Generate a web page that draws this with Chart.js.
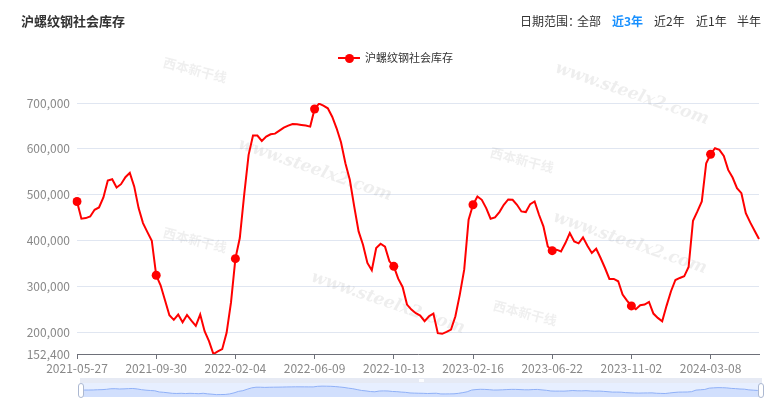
<!DOCTYPE html>
<html>
<head>
<meta charset="utf-8">
<script src="https://cdn.jsdelivr.net/npm/chart.js@4.4.1/dist/chart.umd.min.js"></script>
<style>
html,body{margin:0;padding:0;background:#fff;}
#wrap{position:relative;width:772px;height:412px;overflow:hidden;font-family:"Microsoft YaHei","Noto Sans CJK SC",sans-serif;}
#main{position:absolute;left:0;top:0;}
#title{position:absolute;left:21px;top:13px;font-size:13px;line-height:15px;font-weight:bold;color:#333;white-space:nowrap;}
.rg{position:absolute;top:14px;font-size:12px;line-height:14px;color:#333;white-space:nowrap;}
.rg.on{color:#1890ff;font-weight:bold;}
#lgLine{position:absolute;left:338px;top:57px;width:22px;height:2px;background:#ff0000;}
#lgDot{position:absolute;left:344.5px;top:53.5px;width:9px;height:9px;border-radius:50%;background:#ff0000;}
#lgText{position:absolute;left:365px;top:50px;font-size:11px;line-height:15px;color:#333;white-space:nowrap;}
#sMove{position:absolute;left:80px;top:378px;width:682px;height:5px;background:#e6eaf4;}
#sMoveIcon{position:absolute;left:419px;top:379px;width:5px;height:3px;background:#fbfcfe;}
#sFill{position:absolute;left:80px;top:383px;width:682px;height:14px;background:rgba(135,175,255,0.2);}
#shadow{position:absolute;left:80px;top:383px;}
.hd{position:absolute;top:383px;width:4px;height:13px;border:1px solid #acb8d1;border-radius:3px;background:#fff;}
</style>
</head>
<body>
<div id="wrap">
  <canvas id="main" width="772" height="412"></canvas>
  <div id="title">沪螺纹钢社会库存</div>
  <div class="rg" style="left:520px">日期范围：</div>
  <div class="rg" style="left:577px">全部</div>
  <div class="rg on" style="left:612px">近3年</div>
  <div class="rg" style="left:654px">近2年</div>
  <div class="rg" style="left:696px">近1年</div>
  <div class="rg" style="left:737px">半年</div>
  <div id="lgLine"></div><div id="lgDot"></div>
  <div id="lgText">沪螺纹钢社会库存</div>
  <div id="sMove"></div><div id="sMoveIcon"></div>
  <div id="sFill"></div>
  <canvas id="shadow" width="682" height="14"></canvas>
  <div class="hd" style="left:78px"></div>
  <div class="hd" style="left:758px"></div>
</div>
<script>
const seriesName = '沪螺纹钢社会库存';
const dates = [
'2021-05-27','2021-06-03','2021-06-10','2021-06-17','2021-06-24','2021-07-01','2021-07-08','2021-07-15','2021-07-22','2021-07-29',
'2021-08-05','2021-08-12','2021-08-19','2021-08-26','2021-09-02','2021-09-09','2021-09-16','2021-09-23','2021-09-30','2021-10-08',
'2021-10-14','2021-10-21','2021-10-28','2021-11-04','2021-11-11','2021-11-18','2021-11-25','2021-12-02','2021-12-09','2021-12-16',
'2021-12-23','2021-12-30','2022-01-06','2022-01-13','2022-01-20','2022-01-27','2022-02-04','2022-02-10','2022-02-17','2022-02-24',
'2022-03-03','2022-03-10','2022-03-17','2022-03-24','2022-03-31','2022-04-07','2022-04-14','2022-04-21','2022-04-28','2022-05-05',
'2022-05-12','2022-05-19','2022-05-26','2022-06-02','2022-06-09','2022-06-16','2022-06-23','2022-06-30','2022-07-07','2022-07-14',
'2022-07-21','2022-07-28','2022-08-04','2022-08-11','2022-08-18','2022-08-25','2022-09-01','2022-09-08','2022-09-15','2022-09-22',
'2022-09-29','2022-10-06','2022-10-13','2022-10-20','2022-10-27','2022-11-03','2022-11-10','2022-11-17','2022-11-24','2022-12-01',
'2022-12-08','2022-12-15','2022-12-22','2022-12-29','2023-01-05','2023-01-12','2023-01-19','2023-01-26','2023-02-02','2023-02-09',
'2023-02-16','2023-02-23','2023-03-02','2023-03-09','2023-03-16','2023-03-23','2023-03-30','2023-04-06','2023-04-13','2023-04-20',
'2023-04-27','2023-05-04','2023-05-11','2023-05-18','2023-05-25','2023-06-01','2023-06-08','2023-06-15','2023-06-22','2023-06-29',
'2023-07-06','2023-07-13','2023-07-20','2023-07-27','2023-08-03','2023-08-10','2023-08-17','2023-08-24','2023-08-31','2023-09-07',
'2023-09-14','2023-09-21','2023-09-28','2023-10-12','2023-10-19','2023-10-26','2023-11-02','2023-11-09','2023-11-16','2023-11-23',
'2023-11-30','2023-12-07','2023-12-14','2023-12-21','2023-12-28','2024-01-04','2024-01-11','2024-01-18','2024-01-25','2024-02-01',
'2024-02-08','2024-02-15','2024-02-22','2024-02-29','2024-03-08','2024-03-14','2024-03-21','2024-03-28','2024-04-03','2024-04-11',
'2024-04-18','2024-04-25','2024-05-09','2024-05-16','2024-05-23','2024-05-30'
];
const stock = [
485200,447500,448900,452500,467000,472100,493900,530900,533800,515700,
522900,538200,547600,518000,470700,438000,418400,399600,324100,302300,
269700,237000,226900,238500,221800,237700,225400,213800,238500,202200,
180400,152400,158000,163000,198500,265000,360400,405400,500100,587000,
628900,628900,617300,626700,631800,633200,639800,646300,650700,654300,
653600,652100,650700,648500,686900,698500,694200,688400,670200,644800,
614400,568600,532400,474300,419900,390900,351000,335000,383600,393000,
386500,354600,343700,316800,298700,260200,249300,241300,236300,223900,
234800,240600,197800,196400,200700,205800,234800,282000,336400,445300,
477900,496100,488800,470700,447500,450400,462000,477900,489500,488800,
477900,463400,462000,479400,485200,456200,430800,387200,377800,380000,
376300,394500,416300,398100,393800,406800,388700,372700,382100,361800,
340000,316100,316100,311000,282000,268900,257300,250100,258800,260200,
266000,240600,231200,223900,258000,289300,313900,318300,321900,342200,
443100,463400,485200,568600,588200,601300,597700,584600,554100,537400,
514200,503300,459800,439500,421300,403200
];
const yTicks = [152400,200000,300000,400000,500000,600000,700000];
const yMin = 152400;
const yMax = 700000;
const labelStep = 18;

const FONT = '"Microsoft YaHei","Noto Sans CJK SC",sans-serif';

const watermark = {
  id: 'watermark',
  beforeDatasetsDraw(chart) {
    const c = chart.ctx;
    c.save();
    const sites = [[315,170],[388,303],[630,243],[632,94]];
    c.fillStyle = 'rgba(120,120,120,0.13)';
    c.font = 'italic bold 17px "DejaVu Serif",serif';
    c.textAlign = 'center'; c.textBaseline = 'middle';
    sites.forEach(([x,y]) => { c.save(); c.translate(x,y); c.rotate(0.33); c.fillText('www.steelx2.com',0,0); c.restore(); });
    const logos = [[195,70],[195,240],[522,160],[525,313]];
    c.font = 'bold 13px "Noto Sans CJK SC",sans-serif';
    c.fillStyle = 'rgba(120,120,120,0.12)';
    logos.forEach(([x,y]) => { c.save(); c.translate(x,y); c.rotate(0.25); c.fillText('西本新干线',0,0); c.restore(); });
    c.restore();
  }
};

new Chart(document.getElementById('main'), {
  type: 'line',
  data: {
    labels: dates,
    datasets: [{
      label: seriesName,
      data: stock,
      borderColor: '#ff0000',
      backgroundColor: '#ff0000',
      pointBackgroundColor: '#ff0000',
      borderWidth: 2,
      tension: 0,
      fill: false,
      pointRadius: c => (c.dataIndex % labelStep === 0 ? 4.5 : 0),
      pointHoverRadius: 0,
      pointBorderWidth: 0
    }]
  },
  options: {
    responsive: false,
    animation: false,
    devicePixelRatio: 1,
    layout: { padding: { left: 0, right: 13, top: 103, bottom: 0 } },
    plugins: { legend: { display: false }, tooltip: { enabled: false } },
    scales: {
      x: {
        type: 'category',
        offset: false,
        grid: {
          display: true, drawOnChartArea: false, drawTicks: true, tickLength: 5, lineWidth: 1,
          color: c => (c.index % labelStep === 0 ? '#6E7079' : 'rgba(0,0,0,0)')
        },
        border: { display: true, color: '#6E7079', width: 1 },
        ticks: {
          autoSkip: false, maxRotation: 0, minRotation: 0, padding: 2,
          color: '#888', font: { size: 12, family: FONT },
          callback: (v, i) => (i % labelStep === 0 ? dates[i] : '')
        },
        afterFit: s => { s.height = 58; }
      },
      y: {
        min: yMin, max: yMax,
        afterBuildTicks: s => { s.ticks = yTicks.map(v => ({ value: v })); },
        grid: {
          drawTicks: false, lineWidth: 1,
          color: c => (c.tick && c.tick.value === yMin ? 'rgba(0,0,0,0)' : '#E0E6F1')
        },
        border: { display: false },
        ticks: {
          padding: 7, color: '#888', font: { size: 12, family: FONT },
          callback: v => Number(v).toLocaleString('en-US')
        },
        afterFit: s => { s.width = 77; }
      }
    }
  },
  plugins: [watermark]
});

new Chart(document.getElementById('shadow'), {
  type: 'line',
  data: {
    labels: dates,
    datasets: [{
      data: stock,
      borderColor: '#8fb0f7',
      borderWidth: 1,
      backgroundColor: 'rgba(143,176,247,0.25)',
      fill: 'start',
      tension: 0,
      pointRadius: 0
    }]
  },
  options: {
    responsive: false,
    animation: false,
    devicePixelRatio: 1,
    layout: { padding: 0 },
    plugins: { legend: { display: false }, tooltip: { enabled: false } },
    scales: {
      x: { display: false, offset: false },
      y: { display: false, min: 0, max: 900000 }
    }
  }
});
</script>
</body>
</html>
